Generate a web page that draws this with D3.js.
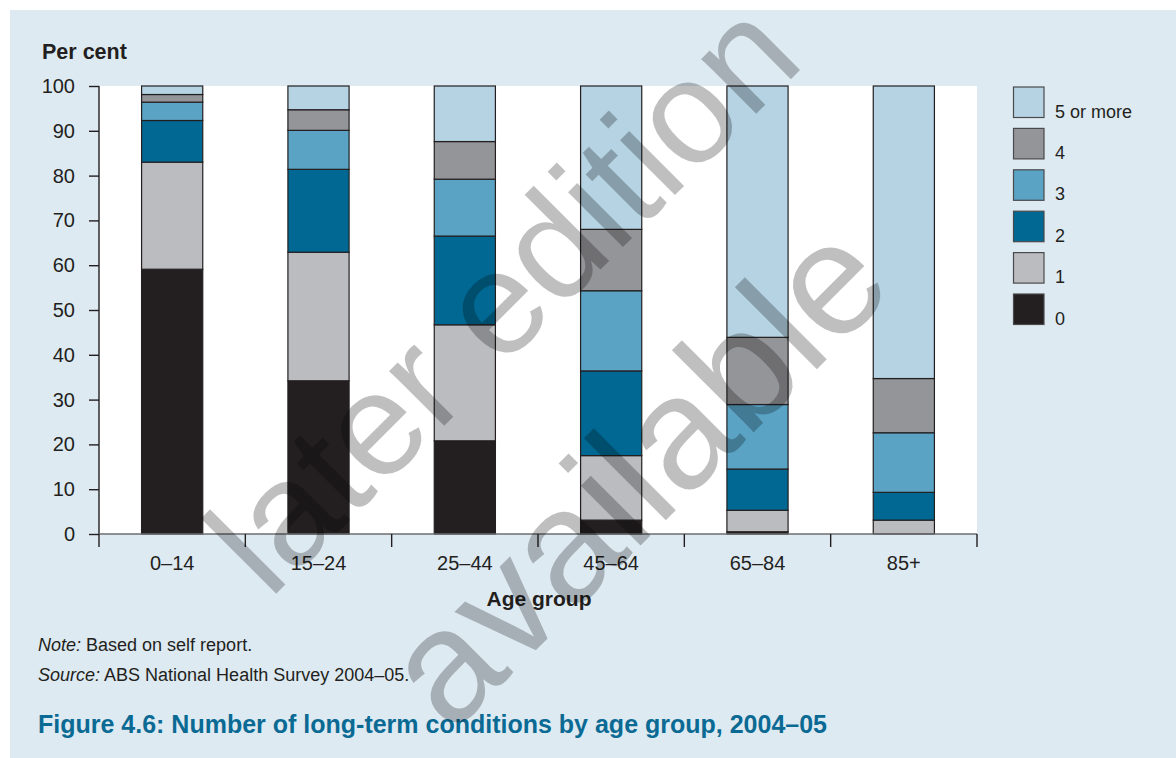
<!DOCTYPE html>
<html>
<head>
<meta charset="utf-8">
<script src="https://cdn.jsdelivr.net/npm/d3@7"></script>
<style>
  html, body { margin: 0; padding: 0; background: #ffffff; }
  svg { display: block; }
  text { font-family: "Liberation Sans", Arial, Helvetica, sans-serif; }
</style>
</head>
<body>
<svg id="chart" width="1176" height="758"></svg>
<script>
// ---- data ----
const categories = ["0–14", "15–24", "25–44", "45–64", "65–84", "85+"];
const seriesKeys = ["0", "1", "2", "3", "4", "5 or more"];
const values0 = [59.1, 34.2, 20.8, 3.1, 0.5, 0];
const values1 = [23.9, 28.7, 25.9, 14.4, 4.8, 3.1];
const values2 = [9.3, 18.5, 19.8, 18.9, 9.2, 6.2];
const values3 = [4.1, 8.7, 12.7, 17.9, 14.4, 13.3];
const values4 = [1.7, 4.6, 8.4, 13.7, 15.0, 12.1];
const values5 = [1.9, 5.3, 12.4, 32.0, 56.1, 65.3];
const yTicks = [0, 10, 20, 30, 40, 50, 60, 70, 80, 90, 100];
const seriesColors = ["#231f20", "#bbbcc0", "#006892", "#5aa3c5", "#949599", "#b5d3e3"];

const allSeries = [values0, values1, values2, values3, values4, values5];
const table = categories.map((c, i) => {
  const row = { cat: c };
  seriesKeys.forEach((k, j) => row[k] = allSeries[j][i]);
  return row;
});

// ---- layout ----
const svg = d3.select("#chart");
const W = 1176, H = 758;
const plot = { left: 99, right: 977, top: 86, bottom: 534 };
const ink = "#231f20";

svg.append("rect").attr("x", 10).attr("y", 10).attr("width", W - 10).attr("height", H - 10)
  .attr("fill", "#deeaf2");
svg.append("rect").attr("x", plot.left).attr("y", plot.top)
  .attr("width", plot.right - plot.left).attr("height", plot.bottom - plot.top)
  .attr("fill", "#ffffff");

const x = d3.scaleBand().domain(categories).range([plot.left, plot.right]).padding(0);
const y = d3.scaleLinear().domain([0, 100]).range([plot.bottom, plot.top]);
const barW = x.bandwidth() * 0.418;

const stack = d3.stack().keys(seriesKeys)(table);
const colorOf = d3.scaleOrdinal().domain(seriesKeys).range(seriesColors);

const g = svg.append("g");
stack.forEach(layer => {
  g.append("g").selectAll("rect").data(layer).join("rect")
    .attr("x", d => x(d.data.cat) + x.bandwidth() / 2 - barW / 2)
    .attr("y", d => y(d[1]))
    .attr("width", barW)
    .attr("height", d => Math.max(0, y(d[0]) - y(d[1])))
    .attr("fill", colorOf(layer.key))
    .attr("stroke", d => (d[1] - d[0]) > 0 ? ink : "none")
    .attr("stroke-width", 1.2);
});

// y axis
const yAxis = d3.axisLeft(y).tickValues(yTicks).tickSize(10).tickPadding(14);
const gy = svg.append("g").attr("transform", `translate(${plot.left},0)`).call(yAxis);
gy.select(".domain").attr("stroke", ink).attr("stroke-width", 1.4).attr("d", `M0,${plot.top}V${plot.bottom}`);
gy.selectAll(".tick line").attr("stroke", ink).attr("stroke-width", 1.4);
gy.selectAll(".tick text").attr("fill", ink).style("font-size", "20px")
  .style("font-family", "'Liberation Sans', Arial, sans-serif");

// x axis
const xAxis = d3.axisBottom(x).tickSize(0).tickPadding(22);
const gx = svg.append("g").attr("transform", `translate(0,${plot.bottom})`).call(xAxis);
gx.select(".domain").attr("stroke", "#6d6e71").attr("stroke-width", 1.4).attr("d", `M${plot.left},0H${plot.right}`);
gx.selectAll(".tick text").attr("fill", ink).style("font-size", "20px")
  .style("font-family", "'Liberation Sans', Arial, sans-serif");
const boundaries = categories.map(c => x(c)).concat([x(categories[categories.length - 1]) + x.bandwidth()]);
gx.selectAll("line.bound").data(boundaries).join("line").attr("class", "bound")
  .attr("x1", d => d).attr("x2", d => d).attr("y1", 0).attr("y2", 13)
  .attr("stroke", ink).attr("stroke-width", 1.4);

// axis titles
svg.append("text").attr("x", 42).attr("y", 59).text("Per cent")
  .attr("fill", ink).style("font-size", "21.5px").style("font-weight", "bold");
svg.append("text").attr("x", 539).attr("y", 606).attr("text-anchor", "middle")
  .text("Age group").attr("fill", ink).style("font-size", "21px").style("font-weight", "bold");

// legend
const legendKeys = seriesKeys.slice().reverse();
const lg = svg.append("g");
legendKeys.forEach((k, i) => {
  const top = 87 + i * 41.4;
  lg.append("rect").attr("x", 1013.5).attr("y", top).attr("width", 30.5).attr("height", 30.5)
    .attr("fill", colorOf(k)).attr("stroke", "#4a4a4c").attr("stroke-width", 1.2);
  lg.append("text").attr("x", 1055).attr("y", top + 30.5).text(k)
    .attr("fill", ink).style("font-size", "18px");
});

// notes
const note = svg.append("text").attr("x", 38).attr("y", 651).attr("fill", ink).style("font-size", "18px");
note.append("tspan").style("font-style", "italic").text("Note:");
note.append("tspan").text(" Based on self report.");
const src = svg.append("text").attr("x", 38).attr("y", 681).attr("fill", ink).style("font-size", "18px");
src.append("tspan").style("font-style", "italic").text("Source:");
src.append("tspan").text(" ABS National Health Survey 2004–05.");

svg.append("text").attr("x", 38).attr("y", 733)
  .text("Figure 4.6: Number of long-term conditions by age group, 2004–05")
  .attr("fill", "#0b6a94").style("font-size", "25px").style("font-weight", "bold");

// watermark
const wm = svg.append("g").attr("pointer-events", "none");
wm.append("text").attr("transform", "translate(538,332) rotate(-45)")
  .attr("text-anchor", "middle").text("later edition")
  .attr("fill", "#000").attr("fill-opacity", 0.25).style("font-size", "147px");
wm.append("text").attr("transform", "translate(674,512) rotate(-45)")
  .attr("text-anchor", "middle").text("available")
  .attr("fill", "#000").attr("fill-opacity", 0.25).style("font-size", "160px");
</script>
</body>
</html>
